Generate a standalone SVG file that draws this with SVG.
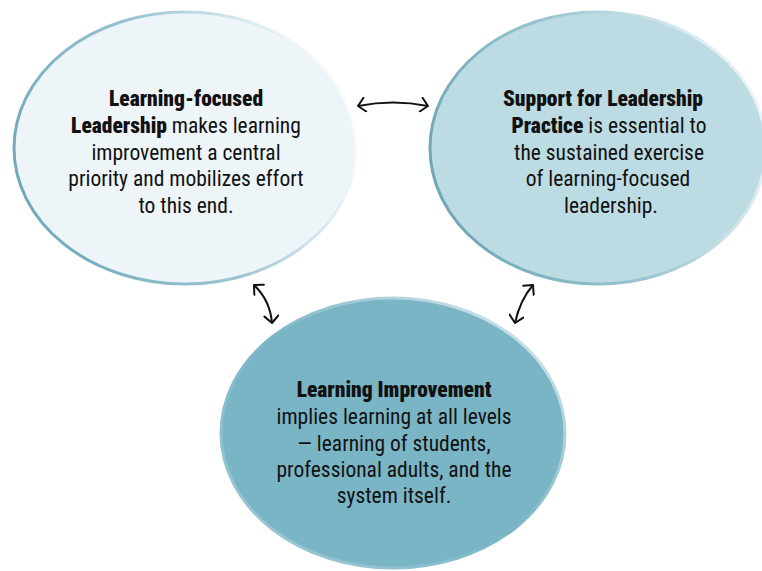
<svg xmlns="http://www.w3.org/2000/svg" width="762" height="571" viewBox="0 0 762 571">
<defs>
<linearGradient id="g1" x1="0" y1="0.6" x2="1" y2="0.3">
<stop offset="0" stop-color="#6ea9bb"/>
<stop offset="0.5" stop-color="#9cc6d3"/>
<stop offset="0.85" stop-color="#e8f2f5"/>
<stop offset="1" stop-color="#ffffff"/>
</linearGradient>
<linearGradient id="g2" x1="0" y1="0.6" x2="1" y2="0.3">
<stop offset="0" stop-color="#6ea6b7"/>
<stop offset="0.5" stop-color="#9cc7d3"/>
<stop offset="0.9" stop-color="#e3eff2"/>
<stop offset="1" stop-color="#eef5f7"/>
</linearGradient>
<linearGradient id="g3" x1="0" y1="1" x2="1" y2="0">
<stop offset="0" stop-color="#a3ccd7"/>
<stop offset="0.5" stop-color="#7ab5c5"/>
<stop offset="1" stop-color="#e4f0f3"/>
</linearGradient>
<marker id="ah" viewBox="0 0 16 16" refX="11" refY="8" markerWidth="16" markerHeight="16" markerUnits="userSpaceOnUse" orient="auto-start-reverse">
<path d="M4 1 L11 8 L4 15" fill="none" stroke="#111" stroke-width="2" stroke-linecap="round" stroke-linejoin="round"/>
</marker>
<style>
.t{font-family:"Roboto Condensed","Liberation Sans Narrow","DejaVu Sans Condensed","Liberation Sans",sans-serif;font-size:21.5px;fill:#111;text-anchor:middle}
.b{font-weight:900}
.c{fill:none;stroke:#111;stroke-width:2;marker-start:url(#ah);marker-end:url(#ah)}
</style>
</defs>
<g id="node-leadership">
<ellipse cx="185" cy="148" rx="171" ry="136" fill="#eef5f8" stroke="url(#g1)" stroke-width="3"/>
<text class="t" x="186" y="106"><tspan class="b">Learning-focused</tspan></text>
<text class="t" x="186" y="133"><tspan class="b">Leadership</tspan> makes learning</text>
<text class="t" x="186" y="160">improvement a central</text>
<text class="t" x="186" y="186">priority and mobilizes effort</text>
<text class="t" x="186" y="213">to this end.</text>
</g>
<g id="node-support">
<ellipse cx="598" cy="148" rx="168" ry="136" fill="#bcdbe2" stroke="url(#g2)" stroke-width="3"/>
<text class="t" x="603" y="106"><tspan class="b">Support for Leadership</tspan></text>
<text class="t" x="609" y="133"><tspan class="b">Practice</tspan> is essential to</text>
<text class="t" x="609" y="160">the sustained exercise</text>
<text class="t" x="608" y="186">of learning-focused</text>
<text class="t" x="611" y="213">leadership.</text>
</g>
<g id="node-improvement">
<ellipse cx="393" cy="433" rx="172" ry="135" fill="#7ab5c5" stroke="url(#g3)" stroke-width="3"/>
<text class="t" x="394" y="397"><tspan class="b">Learning Improvement</tspan></text>
<text class="t" x="394" y="424">implies learning at all levels</text>
<text class="t" x="394" y="451">— learning of students,</text>
<text class="t" x="394" y="477">professional adults, and the</text>
<text class="t" x="394" y="503">system itself.</text>
</g>
<g id="connectors">
<path class="c" d="M358 106 Q393 99 428 106"/>
<path class="c" d="M254 285 Q270 300 272 323"/>
<path class="c" d="M533 285 Q520 300 515 323"/>
</g>
</svg>
